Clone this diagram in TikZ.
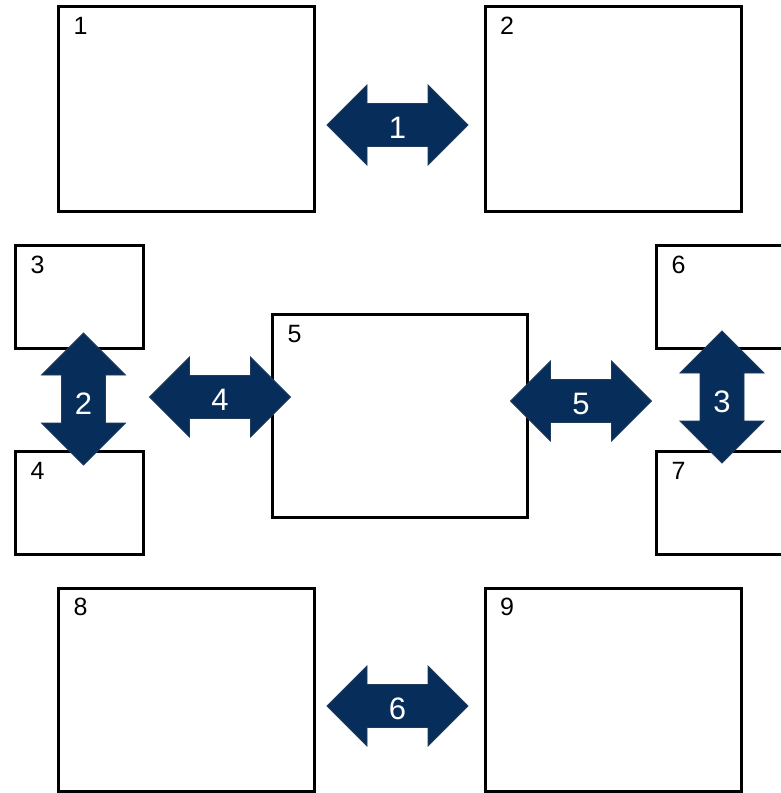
\documentclass[tikz,border=0pt]{standalone}
\usepackage{fontspec}
\setmainfont{Liberation Sans}
\usetikzlibrary{calc}
\definecolor{navy}{RGB}{7,46,90}
\definecolor{navyedge}{RGB}{30,58,92}
\tikzset{
  box/.style={draw=black, line width=3pt, fill=none, inner sep=0pt, outer sep=0pt, anchor=north west},
  bigbox/.style={box, minimum width=256pt, minimum height=204.5pt},
  smallbox/.style={box, minimum width=128pt, minimum height=102.5pt},
  boxlabel/.style={anchor=base west, inner sep=0pt, font=\fontsize{25pt}{25pt}\selectfont},
  arrowfill/.style={fill=navy, draw=navyedge, line width=0.8pt, line join=miter},
  arrowlabel/.style={text=white, inner sep=0pt, font=\fontsize{31pt}{31pt}\selectfont},
  harrow/.pic={
    \filldraw[arrowfill] (-70.5,0) -- (-30.5,-40) -- (-30.5,-21.5) -- (30.5,-21.5) -- (30.5,-40)
      -- (70.5,0) -- (30.5,40) -- (30.5,21.5) -- (-30.5,21.5) -- (-30.5,40) -- cycle;
    \node[arrowlabel] (-lbl) at (0,2.5) {#1};
  },
  varrow/.pic={
    \filldraw[arrowfill] (0,-66) -- (42,-24) -- (22,-24) -- (22,24) -- (42,24)
      -- (0,66) -- (-42,24) -- (-22,24) -- (-22,-24) -- (-42,-24) -- cycle;
    \node[arrowlabel] (-lbl) at (0,5) {#1};
  }
}
\begin{document}
\begin{tikzpicture}[x=1pt,y=-1pt]
\useasboundingbox (0,0) rectangle (781,793);
\clip (0,0) rectangle (781,793);
\fill[white] (0,0) rectangle (781,793);
% boxes
\node[bigbox] (b1) at (58.5,6.5) {};
\node[bigbox] (b2) at (485,6.5) {};
\node[smallbox] (b3) at (15.5,245.5) {};
\node[smallbox] (b4) at (15.5,451.5) {};
\node[box, minimum width=255pt, minimum height=203pt] (b5) at (272.5,314.5) {};
\node[smallbox] (b6) at (656.5,245.5) {};
\node[smallbox] (b7) at (656.5,451.5) {};
\node[box, minimum width=256pt, minimum height=203.5pt] (b8) at (58.5,588) {};
\node[box, minimum width=256pt, minimum height=203.5pt] (b9) at (485,588) {};
% box labels
\foreach \b/\t in {b1/1,b2/2,b3/3,b4/4,b5/5,b6/6,b7/7,b8/8,b9/9}{
  \node[boxlabel] (\b-lab) at ($(\b.north west)+(15,27.5)$) {\t};
}
% double arrows
\pic (a1) at (397.5,125) {harrow=1};
\pic (a6) at (397.5,706) {harrow=6};
\pic (a4) at (220,397) {harrow=4};
\pic (a5) at (581,401) {harrow=5};
\pic (a2) at (83.5,399) {varrow=2};
\pic (a3) at (722,397) {varrow=3};
\end{tikzpicture}
\end{document}
